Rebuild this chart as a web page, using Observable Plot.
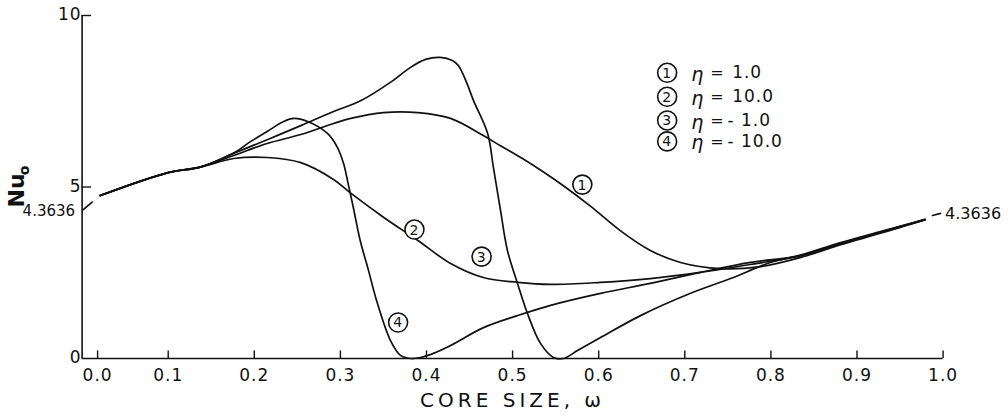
<!DOCTYPE html>
<html><head><meta charset="utf-8">
<script src="https://cdn.jsdelivr.net/npm/d3@7"></script>
<script src="https://cdn.jsdelivr.net/npm/@observablehq/plot@0.6"></script>
<style>html,body{margin:0;padding:0;background:#fff}svg{display:block}</style>
</head><body><div id="chart"></div>
<script>
// ---- data ----
const curveIds = ["1", "2", "3", "4"];
const curveEta = ["1.0", "10.0", "- 1.0", "- 10.0"];

const c1Omega = [0.021,0.10,0.137,0.176,0.215,0.254,0.292,0.312,0.35,0.39,0.428,0.466,0.486,0.51,0.535,0.561,0.59,0.625,0.66,0.695,0.741,0.788,0.835,0.881,0.927,0.979];
const c1Nu    = [4.75,5.42,5.58,5.92,6.27,6.53,6.85,7.0,7.17,7.17,7.0,6.5,6.2,5.85,5.45,5.0,4.45,3.73,3.15,2.8,2.62,2.68,2.95,3.32,3.65,4.05];

const c2Omega = [0.021,0.10,0.137,0.176,0.215,0.254,0.292,0.312,0.35,0.39,0.428,0.466,0.506,0.544,0.602,0.66,0.718,0.776,0.835,0.881,0.927,0.979];
const c2Nu    = [4.75,5.42,5.58,5.83,5.86,5.71,5.22,4.82,4.12,3.44,2.77,2.36,2.22,2.16,2.22,2.33,2.51,2.74,3.0,3.36,3.68,4.06];

const c3Omega = [0.021,0.10,0.137,0.176,0.215,0.254,0.292,0.324,0.358,0.381,0.399,0.416,0.43,0.437,0.4465,0.4546,0.471,0.4777,0.486,0.494,0.5057,0.5173,0.5324,0.5475,0.5591,0.5754,0.6021,0.6486,0.7067,0.7531,0.7995,0.835,0.881,0.927,0.979];
const c3Nu    = [4.75,5.42,5.58,5.98,6.38,6.79,7.2,7.52,8.05,8.48,8.72,8.78,8.69,8.54,8.05,7.52,6.56,5.57,4.31,3.15,2.19,1.31,0.44,0.03,0.0,0.23,0.61,1.25,1.9,2.33,2.8,3.02,3.38,3.7,4.05];

const c4Omega = [0.021,0.10,0.137,0.176,0.196,0.215,0.234,0.246,0.262,0.285,0.2966,0.3036,0.3094,0.3152,0.323,0.3326,0.342,0.3582,0.3698,0.3814,0.393,0.408,0.428,0.4662,0.5057,0.5441,0.6021,0.66,0.7182,0.7763,0.835,0.881,0.927,0.979];
const c4Nu    = [4.75,5.42,5.58,5.99,6.33,6.62,6.91,7.0,6.91,6.56,6.15,5.69,5.05,4.38,3.44,2.57,1.69,0.52,0.09,0.0,0.03,0.15,0.38,0.9,1.25,1.55,1.9,2.19,2.51,2.8,3.0,3.35,3.67,4.04];

// limit markers at omega = 0 and omega = 1 (Nu = 4.3636)
const leftMarkOmega = [0.0013, 0.0117];
const leftMarkNu    = [4.34, 4.56];
const rightMarkOmega = [0.9877, 0.997];
const rightMarkNu    = [4.17, 4.23];
const limitLabel = "4.3636";

// circled curve labels on the plot
const labelOmega = [0.581, 0.386, 0.464, 0.367];
const labelNu    = [5.07, 3.76, 2.97, 1.05];

// axes
const xTickValues = [0.018, 0.1, 0.2, 0.3, 0.4, 0.5, 0.6, 0.7, 0.8, 0.9, 1.0];
const xTickLabels = ["0.0","0.1","0.2","0.3","0.4","0.5","0.6","0.7","0.8","0.9","1.0"];
const yTickValues = [0, 5, 10];
const yTickLabels = ["0", "5", "10"];
const xTitle = "CORE SIZE, \u03C9";

// legend rows (Nu levels in plot space)
const legendNu = [8.33, 7.63, 6.94, 6.33];

// ---- build ----
const omegas = [c1Omega, c2Omega, c3Omega, c4Omega];
const nus = [c1Nu, c2Nu, c3Nu, c4Nu];
const rows = [];
curveIds.forEach((id, k) => omegas[k].forEach((w, i) => rows.push({curve: id, omega: w, nu: nus[k][i]})));

const marker = (ws, ns) => ws.map((w, i) => ({omega: w, nu: ns[i]}));
const ink = "#111";
const font = "DejaVu Sans";

const xt = xTickValues.map((v, i) => ({v, t: xTickLabels[i]}));
const yt = yTickValues.map((v, i) => ({v, t: yTickLabels[i]}));
const labels = curveIds.map((id, i) => ({id, omega: labelOmega[i], nu: labelNu[i]}));
const legend = curveIds.map((id, i) => ({id, eta: curveEta[i], nu: legendNu[i]}));

const chart = Plot.plot({
  width: 1008, height: 416,
  marginLeft: 81.6, marginRight: 65.4, marginTop: 15, marginBottom: 58,
  x: {domain: [0, 1], axis: null},
  y: {domain: [0, 10], axis: null},
  style: {fontFamily: font, color: ink, background: "#fff", overflow: "visible"},
  marks: [
    // frame
    Plot.ruleX([0], {y1: 0, y2: 10, stroke: ink, strokeWidth: 1.6}),
    Plot.ruleY([0], {x1: 0, x2: 1, stroke: ink, strokeWidth: 1.6}),
    Plot.ruleX(xTickValues, {y1: 0, y2: 0.22, stroke: ink, strokeWidth: 1.4}),
    Plot.ruleY(yTickValues.filter(v => v > 0), {x1: 0, x2: 0.011, stroke: ink, strokeWidth: 1.4}),
    // tick labels
    Plot.text(xt, {x: "v", y: 0, text: "t", dy: 17, fontSize: 17, fill: ink}),
    Plot.text(yt, {x: 0, y: "v", text: "t", textAnchor: "end", dx: d => d.v === 0 ? -16 : -10, dy: d => d.v === 10 ? 3 : (d.v === 0 ? 2 : 1), fontSize: 17, fill: ink}),
    Plot.text([{t: xTitle}], {x: 0.5, y: 0, text: "t", dy: 42, fontSize: 20, fill: ink}),
    // y title Nu_o
    Plot.text([{t: "Nu"}], {x: 0, y: 4.9, text: "t", dx: -65, rotate: -90, fontSize: 22, fontWeight: "bold", fill: ink}),
    Plot.text([{t: "o"}], {x: 0, y: 5.48, text: "t", dx: -58, rotate: -90, fontSize: 14, fontWeight: "bold", fill: ink}),
    // curves
    Plot.line(rows, {x: "omega", y: "nu", z: "curve", curve: "catmull-rom", stroke: ink, strokeWidth: 1.7}),
    // limit markers
    Plot.line(marker(leftMarkOmega, leftMarkNu), {x: "omega", y: "nu", stroke: ink, strokeWidth: 1.7}),
    Plot.line(marker(rightMarkOmega, rightMarkNu), {x: "omega", y: "nu", stroke: ink, strokeWidth: 1.7}),
    Plot.text([limitLabel], {x: 0, y: 4.3636, text: d => d, textAnchor: "end", dx: -7, dy: 2, fontSize: 15, fill: ink}),
    Plot.text([limitLabel], {x: 1.0, y: 4.23, text: d => d, textAnchor: "start", dx: 2, fontSize: 16, fill: ink}),
    // circled labels on curves
    Plot.dot(labels, {x: "omega", y: "nu", r: 9.5, stroke: ink, strokeWidth: 1.6, fill: "white"}),
    Plot.text(labels, {x: "omega", y: "nu", text: "id", fontSize: 14, fill: ink, dy: 0.5}),
    // legend
    Plot.dot(legend, {x: 0.6795, y: "nu", r: 9.5, stroke: ink, strokeWidth: 1.6, fill: "white"}),
    Plot.text(legend, {x: 0.6795, y: "nu", text: "id", fontSize: 14, fill: ink, dy: 0.5}),
    Plot.text(legend, {x: 0.715, y: "nu", text: () => "\u03B7", fontSize: 19, fontStyle: "italic", fill: ink, dy: 2}),
    Plot.text(legend, {x: 0.738, y: "nu", text: () => "=", fontSize: 16, fill: ink}),
    Plot.text(legend, {x: d => d.eta.startsWith("-") ? 0.7496 : 0.755, y: "nu", text: "eta", textAnchor: "start", fontSize: 17, fill: ink})
  ]
});
// letter spacing like the hand lettering
d3.select(chart).selectAll("text").style("letter-spacing", "1px");
d3.select(chart).selectAll("text").filter(function() { return this.textContent === xTitle; }).style("letter-spacing", "4px");
d3.select(chart).selectAll("text").filter(function() { return this.textContent === limitLabel || this.textContent === "Nu" || this.textContent === "o"; }).style("letter-spacing", "0px");
document.getElementById("chart").appendChild(chart);
</script>
</body></html>
